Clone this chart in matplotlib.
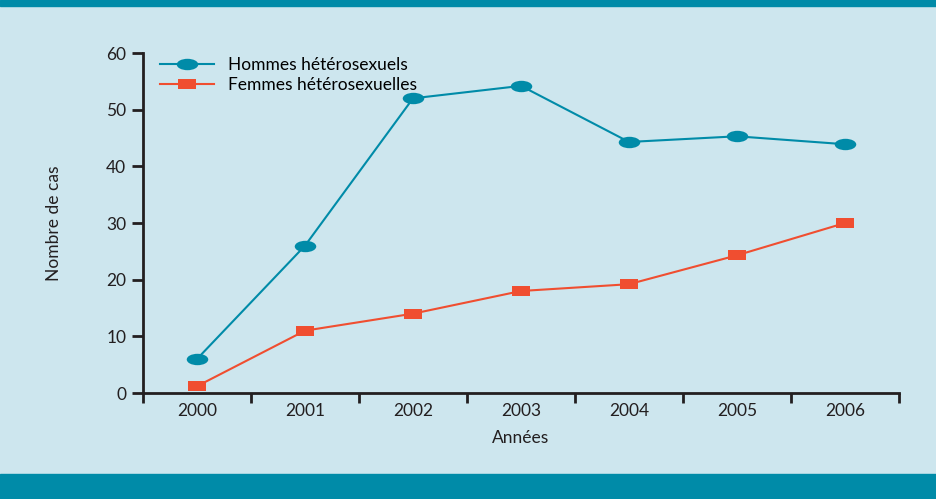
import matplotlib.pyplot as plt
from matplotlib.path import Path
from matplotlib.transforms import Affine2D
from matplotlib.patches import Rectangle

annees = ["2000", "2001", "2002", "2003", "2004", "2005", "2006"]
hommes = [6, 26, 52, 54.2, 44.3, 45.3, 43.9]
femmes = [1.2, 11, 14, 18, 19.2, 24.3, 30]
y_ticks = [0, 10, 20, 30, 40, 50, 60]

teal = "#008ba8"
orange = "#f04e30"
fond = "#cde6ee"
encre = "#231f20"

plt.rcParams["font.family"] = ["Lato", "DejaVu Sans"]

# markers: flat ellipse and flat rectangle
ellipse = Path.unit_circle().transformed(Affine2D().scale(1, 0.53))
rect = Path([(-1, -0.56), (1, -0.56), (1, 0.56), (-1, 0.56), (-1, -0.56)],
            [Path.MOVETO, Path.LINETO, Path.LINETO, Path.LINETO, Path.CLOSEPOLY])

fig = plt.figure(figsize=(9.36, 4.99), dpi=100, facecolor=fond)
fig.patches.append(Rectangle((0, 1 - 6 / 499), 1, 6 / 499, transform=fig.transFigure,
                             color=teal, zorder=0))
fig.patches.append(Rectangle((0, 0), 1, 25 / 499, transform=fig.transFigure,
                             color=teal, zorder=0))

ax = fig.add_axes([143 / 936, 106 / 499, 756 / 936, 340 / 499])
ax.set_facecolor(fond)

x = list(range(len(annees)))
ax.plot(x, hommes, color=teal, lw=1.5, marker=ellipse, markersize=15.5,
        markeredgewidth=0, label="Hommes hétérosexuels", clip_on=False)
ax.plot(x, femmes, color=orange, lw=1.5, marker=rect, markersize=13,
        markeredgewidth=0, label="Femmes hétérosexuelles", clip_on=False)

ax.set_xlim(-0.5, len(annees) - 0.5)
ax.set_ylim(0, 60)

ax.set_xticks([i - 0.5 for i in range(len(annees) + 1)])
ax.set_xticklabels([])
ax.set_xticks(x, minor=True)
ax.set_xticklabels(annees, minor=True)
ax.tick_params(axis="x", which="major", direction="out", length=7, width=2, color=encre)
ax.tick_params(axis="x", which="minor", length=0, pad=7, labelsize=12.5, labelcolor=encre)

ax.set_yticks(y_ticks)
ax.tick_params(axis="y", direction="out", length=8, width=2, color=encre,
               labelsize=12.5, labelcolor=encre, pad=4)

for s in ["top", "right"]:
    ax.spines[s].set_visible(False)
for s in ["left", "bottom"]:
    ax.spines[s].set_linewidth(2)
    ax.spines[s].set_color(encre)

ax.set_xlabel("Années", fontsize=12.5, color=encre, labelpad=8)
ax.set_ylabel("Nombre de cas", fontsize=12.5, color=encre, labelpad=32)

ax.legend(loc="upper left", bbox_to_anchor=(0.0, 1.04), frameon=False, fontsize=12.5,
          handlelength=3.1, handletextpad=0.8, labelspacing=0.25, borderaxespad=0.6)

fig.savefig("out.png", dpi=100, facecolor=fond)
